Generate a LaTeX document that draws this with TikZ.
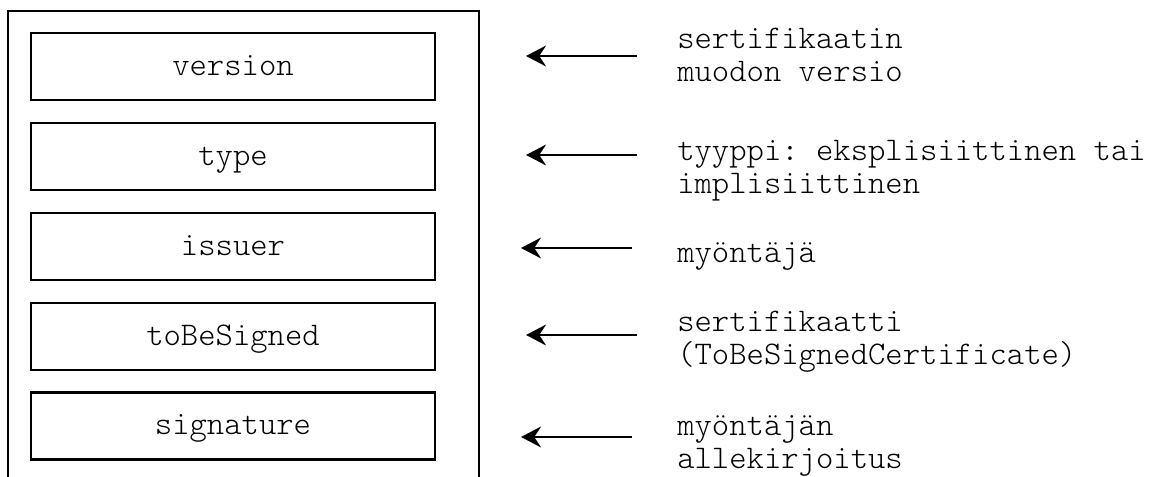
\documentclass[tikz,border=0pt]{standalone}
\usepackage{fontspec}
\usepackage{tikz}
\usetikzlibrary{arrows.meta, positioning}
\setmonofont{Latin Modern Mono Light}
\newcommand{\certfont}{\ttfamily\fontsize{23.5}{23.8}\selectfont}
\tikzset{
  fieldbox/.style={draw, line width=1.5pt, minimum width=10.1cm, minimum height=1.675cm,
                   inner sep=0pt, text height=0.6cm, text depth=0.16cm, font=\certfont},
  lbl/.style={anchor=base west, align=left, inner sep=0pt, font=\certfont},
  arr/.style={-{Stealth[length=0.5cm, width=0.52cm, inset=0.17cm]}, line width=1.8pt},
  outer/.style={line width=1.9pt, line join=miter},
}

\begin{document}
\begin{tikzpicture}[x=0.025cm, y=-0.025cm]
  \useasboundingbox (0,0) rectangle (1164,477);

  %% ── Certificate frame (open at the bottom) ──
  \draw[outer] (8,477) -- (8,11) -- (479,11) -- (479,477);

  %% ── Fields ──
  \node[fieldbox] (ver) at (233,66.5) {version};
  \node[fieldbox] (typ) at (233,156.5) {type};
  \node[fieldbox] (iss) at (233,246.5) {issuer};
  \node[fieldbox] (tbs) at (233,336.5) {toBeSigned};
  \node[fieldbox] (sig) at (233,426) {signature};

  %% ── Explanations (anchored at the baseline of the last line) ──
  \node[lbl] (verlbl) at (677,82) {sertifikaatin\\muodon versio};
  \node[lbl] (typlbl) at (677,194) {tyyppi: eksplisiittinen tai\\implisiittinen};
  \node[lbl] (isslbl) at (677,263) {myöntäjä};
  \node[lbl] (tbslbl) at (677,365) {sertifikaatti\\(ToBeSignedCertificate)};
  \node[lbl] (siglbl) at (677,469) {myöntäjän\\allekirjoitus};

  %% ── Arrows ──
  \coordinate (verA) at (637,56);  \coordinate (verB) at (526,56);
  \coordinate (typA) at (637,155); \coordinate (typB) at (526,155);
  \coordinate (issA) at (632,248); \coordinate (issB) at (521,248);
  \coordinate (tbsA) at (637,335); \coordinate (tbsB) at (526,335);
  \coordinate (sigA) at (632,437); \coordinate (sigB) at (521,437);
  \draw[arr] (verA) -- (verB);
  \draw[arr] (typA) -- (typB);
  \draw[arr] (issA) -- (issB);
  \draw[arr] (tbsA) -- (tbsB);
  \draw[arr] (sigA) -- (sigB);
\end{tikzpicture}
\end{document}
